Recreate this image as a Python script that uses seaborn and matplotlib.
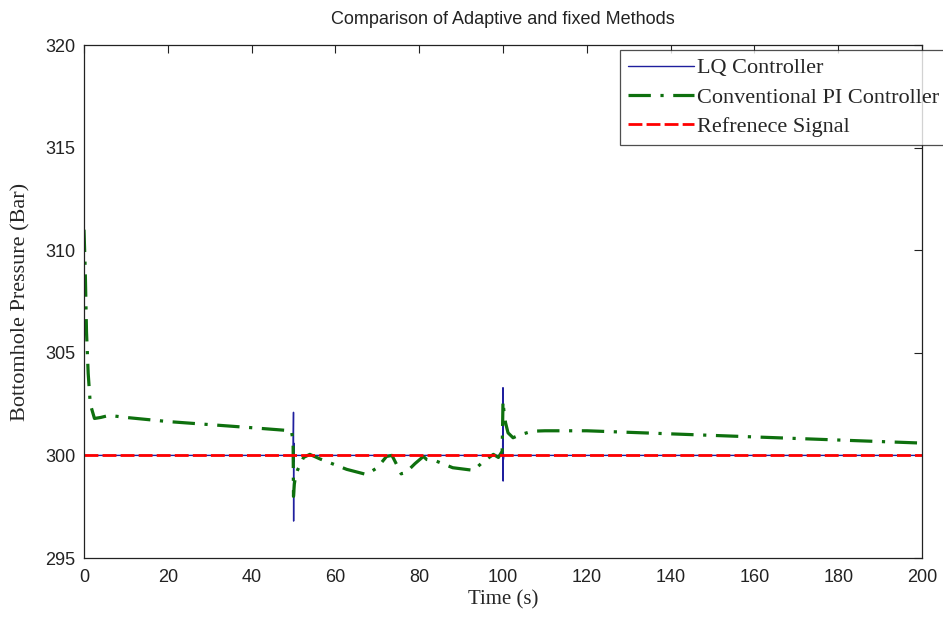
import numpy as np
import pandas as pd
import matplotlib
matplotlib.use("Agg")
import matplotlib.pyplot as plt
import seaborn as sns

# ---- data ----
pi_time = [0, 0.3, 0.6, 1.0, 1.5, 2.5, 4, 6, 10, 20, 30, 40, 49.5, 49.9,
           50.0, 50.2, 50.5, 51.0, 52.4, 53.9, 56.3, 62.7, 67.4, 70.0, 72.2,
           73.5, 74.6, 75.7, 77.0, 79.0, 81.0, 81.8, 84.1, 88.0, 93.0, 95.3,
           97.7, 98.9, 99.8, 100.0, 100.2, 100.6, 101.2, 102.4, 104.0, 107.0,
           110, 120, 140, 160, 180, 200]
pi_vals = [311.0, 309.0, 306.0, 304.0, 302.5, 301.8, 301.85, 301.95, 301.85, 301.65,
           301.5, 301.35, 301.2, 300.7,
           298.0, 298.6, 299.0, 299.3, 299.9, 300.05, 299.83, 299.32, 299.07, 299.4, 299.95,
           300.0, 299.56, 299.1, 299.2, 299.6, 299.95, 299.8, 299.72, 299.4, 299.27, 299.7,
           300.05, 299.9, 300.2, 302.65, 302.2, 301.6, 301.1, 300.86, 301.0, 301.18,
           301.2, 301.2, 301.05, 300.9, 300.75, 300.6]

lq_time = [0, 49.9, 50.0, 50.03, 50.06, 50.1, 50.2, 99.9, 100.0, 100.03, 100.06,
           100.1, 100.2, 200]
lq_vals = [300.0, 300.0, 302.1, 296.8, 300.6, 299.7, 300.0, 300.0, 303.3, 298.75, 300.5,
           299.8, 300.0, 300.0]

ref_time = [0, 200]
ref_vals = [300.0, 300.0]

x_ticks = [0, 20, 40, 60, 80, 100, 120, 140, 160, 180, 200]
y_ticks = [295, 300, 305, 310, 315, 320]

title = "Comparison of Adaptive and fixed Methods"
xlabel = "Time (s)"
ylabel = "Bottomhole Pressure (Bar)"
series_names = ["LQ Controller", "Conventional PI Controller", "Refrenece Signal"]

# ---- plotting ----
sns.set_theme(style="white")
plt.rcParams["font.family"] = ["Liberation Sans", "DejaVu Sans"]

fig = plt.figure(figsize=(9.43, 6.17), dpi=100)
ax = fig.add_axes([84 / 943, 1 - 558 / 617, (922 - 84) / 943, (558 - 45) / 617])

df_lq = pd.DataFrame({"t": lq_time, "p": lq_vals})
df_pi = pd.DataFrame({"t": pi_time, "p": pi_vals})
df_ref = pd.DataFrame({"t": ref_time, "p": ref_vals})

sns.lineplot(data=df_lq, x="t", y="p", ax=ax, color="#1f1f9e", linewidth=1.0,
             label=series_names[0], sort=False)
sns.lineplot(data=df_pi, x="t", y="p", ax=ax, color="#0e700e", linewidth=2.3,
             label=series_names[1], sort=False)
ax.lines[-1].set_dashes([7, 3, 1, 3])
sns.lineplot(data=df_ref, x="t", y="p", ax=ax, color="#ff0000", linewidth=2.0,
             label=series_names[2], sort=False)
ax.lines[-1].set_dashes([5, 1.5])

ax.set_xlim(0, 200)
ax.set_ylim(295, 320)
ax.set_xticks(x_ticks)
ax.set_yticks(y_ticks)
ax.tick_params(direction="in", length=6, width=0.8, top=True, right=True,
               labelsize=13, colors="#222222")
ax.tick_params(axis="x", pad=8)
ax.tick_params(axis="y", pad=6)
for s in ax.spines.values():
    s.set_color("#222222")
    s.set_linewidth(0.9)
    s.set_visible(True)

ax.set_title(title, fontsize=13, pad=15, color="#222222")
ax.set_xlabel(xlabel, family=["Liberation Serif"], fontsize=15, labelpad=3)
ax.set_ylabel(ylabel, family=["Liberation Serif"], fontsize=16, labelpad=11)

leg = ax.legend(loc="upper left", bbox_to_anchor=(620 / 943, 1 - 50 / 617),
                bbox_transform=fig.transFigure, frameon=True, fancybox=False,
                prop={"family": "Liberation Serif", "size": 16},
                handlelength=3.0, handletextpad=0.1, borderpad=0.35,
                labelspacing=0.4, borderaxespad=0)
leg.get_frame().set_edgecolor("#222222")
leg.get_frame().set_linewidth(0.9)

fig.savefig("out.png", dpi=100, facecolor="white")
